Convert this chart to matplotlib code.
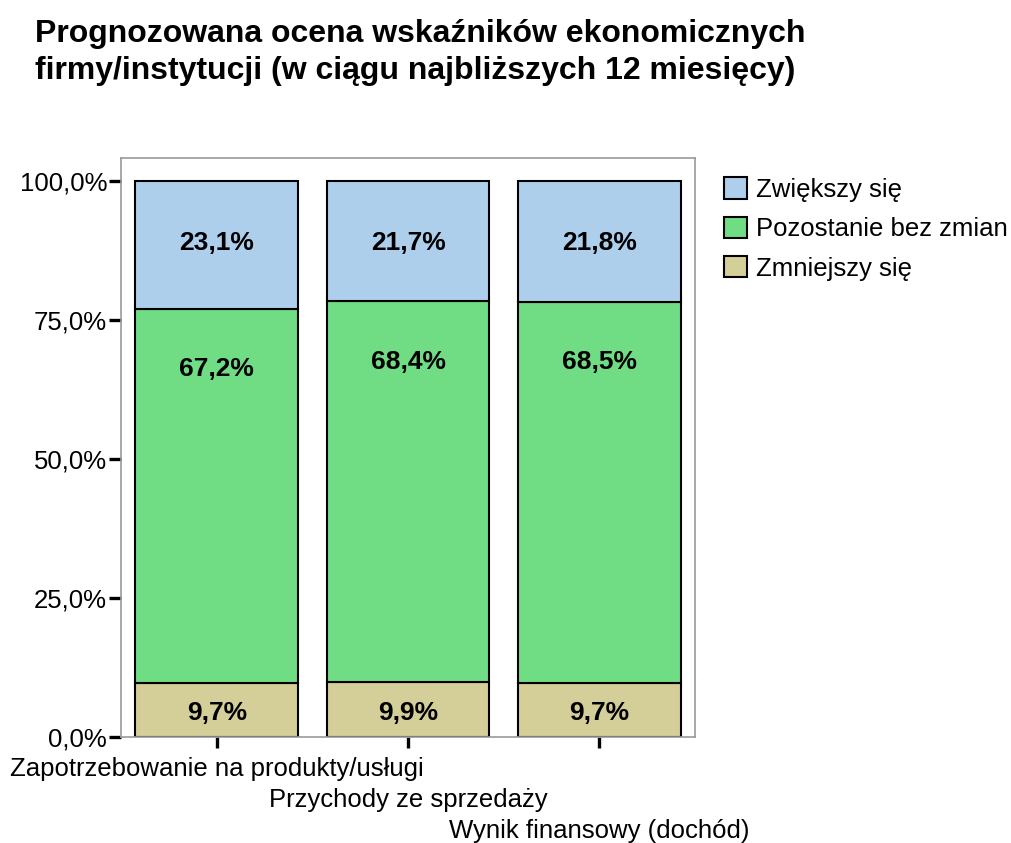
import numpy as np
import matplotlib
matplotlib.use("Agg")
from matplotlib import pyplot as plt

plt.rcParams['font.family'] = ['Liberation Sans', 'DejaVu Sans']

categories = ["Zapotrzebowanie na produkty/usługi", "Przychody ze sprzedaży", "Wynik finansowy (dochód)"]
series_names = ["Zwiększy się", "Pozostanie bez zmian", "Zmniejszy się"]
zmniejszy = [9.7, 9.9, 9.7]
bez_zmian = [67.2, 68.4, 68.5]
zwiekszy = [23.1, 21.7, 21.8]
yticks = [0, 25, 50, 75, 100]
ytick_labels = ["0,0%", "25,0%", "50,0%", "75,0%", "100,0%"]

col_up = "#aecfec"
col_same = "#70dc84"
col_down = "#d4ce98"

fig = plt.figure(figsize=(10.12, 8.43), dpi=100)
ax = fig.add_axes([0.1196, 0.1257, 0.5672, 0.6869])

x = np.arange(len(categories))
w = 0.85
b1 = ax.bar(x, zmniejszy, w, color=col_down, edgecolor="black", linewidth=1.5, label=series_names[2])
b2 = ax.bar(x, bez_zmian, w, bottom=zmniejszy, color=col_same, edgecolor="black", linewidth=1.5, label=series_names[1])
bottom3 = np.array(zmniejszy) + np.array(bez_zmian)
b3 = ax.bar(x, zwiekszy, w, bottom=bottom3, color=col_up, edgecolor="black", linewidth=1.5, label=series_names[0])

def fmt(v):
    return f"{v:.1f}%".replace(".", ",")

for i in range(len(categories)):
    ax.text(x[i], zmniejszy[i] / 2 - 0.6, fmt(zmniejszy[i]), ha="center", va="center",
            fontsize=19, fontweight="bold")
    top2 = zmniejszy[i] + bez_zmian[i]
    ax.text(x[i], top2 - 10.8, fmt(bez_zmian[i]), ha="center", va="center",
            fontsize=19, fontweight="bold")
    ax.text(x[i], 100 - 11.2, fmt(zwiekszy[i]), ha="center", va="center",
            fontsize=19, fontweight="bold")

ax.set_xlim(-0.5, 2.5)
ax.set_ylim(0, 104.1)
ax.set_yticks(yticks)
ax.set_yticklabels(ytick_labels, fontsize=18.5)
ax.set_xticks(x)
ax.set_xticklabels([])
for s in ax.spines.values():
    s.set_color("#999999")
    s.set_linewidth(1.2)
ax.tick_params(axis="y", direction="out", length=9, width=2.4, color="black", pad=1)
ax.tick_params(axis="x", direction="out", length=8, width=2.4, color="black")

# staggered category labels
for i, c in enumerate(categories):
    ax.annotate(c, xy=(x[i], 0), xycoords=("data", "axes fraction"),
                xytext=(0, -23 - 22.5 * i), textcoords="offset points",
                ha="center", va="center", fontsize=18.5)

handles = [b3, b2, b1]
fig.legend(handles, series_names, loc="upper left", bbox_to_anchor=(0.705, 0.802),
           frameon=False, fontsize=18.5, handlelength=0.9, handleheight=0.9,
           handletextpad=0.35, labelspacing=0.58, borderaxespad=0)

fig.text(0.035, 0.978, "Prognozowana ocena wskaźników ekonomicznych\nfirmy/instytucji (w ciągu najbliższych 12 miesięcy)",
         ha="left", va="top", fontsize=23, fontweight="bold", linespacing=1.33)

fig.savefig("out.png", dpi=100)
